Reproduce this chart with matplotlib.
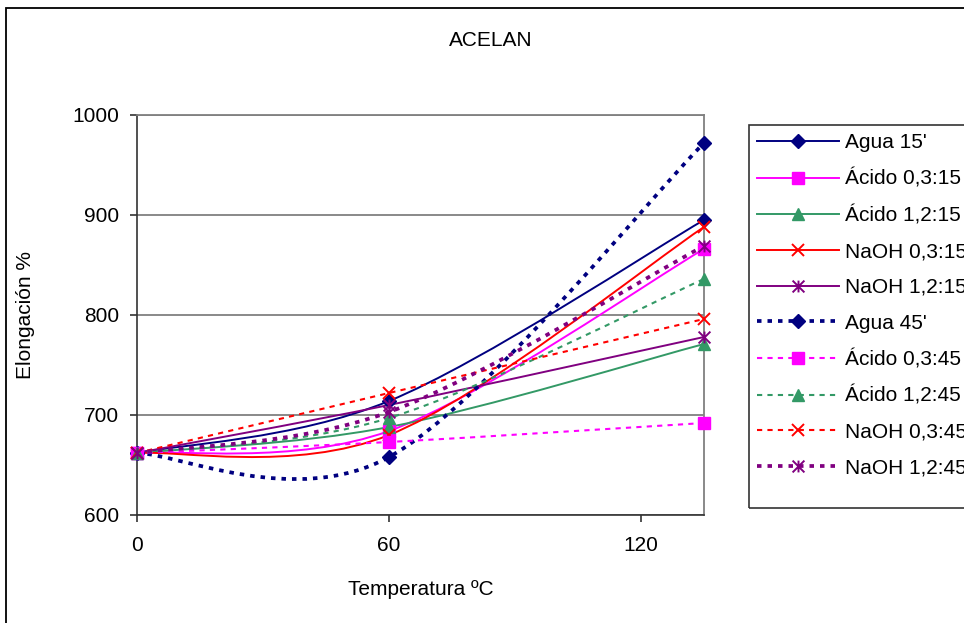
import matplotlib
matplotlib.use('Agg')
import matplotlib.pyplot as plt
from matplotlib.path import Path
from matplotlib.patches import PathPatch, Rectangle
from matplotlib.lines import Line2D

plt.rcParams['font.family'] = ['Liberation Sans', 'DejaVu Sans']

# ---------------- data ----------------
temperatura = [0, 60, 135]
x_ticks = [0, 60, 120]
y_ticks = [600, 700, 800, 900, 1000]

series_names = ["Agua 15'", "Ácido 0,3:15", "Ácido 1,2:15", "NaOH 0,3:15", "NaOH 1,2:15",
                "Agua 45'", "Ácido 0,3:45", "Ácido 1,2:45", "NaOH 0,3:45", "NaOH 1,2:45"]
agua_15 = [662, 714, 895]
acido03_15 = [662, 684, 866]
acido12_15 = [662, 688, 771]
naoh03_15 = [662, 680, 888]
naoh12_15 = [662, 710, 778]
agua_45 = [662, 658, 972]
acido03_45 = [662, 673, 692]
acido12_45 = [662, 697, 836]
naoh03_45 = [662, 722, 796]
naoh12_45 = [662, 703, 869]
series_values = [agua_15, acido03_15, acido12_15, naoh03_15, naoh12_15,
                 agua_45, acido03_45, acido12_45, naoh03_45, naoh12_45]

# ---------------- styles ----------------
star = Path([(-1, -1), (1, 1), (-1, 1), (1, -1), (0, -1), (0, 1)],
            [Path.MOVETO, Path.LINETO] * 3)
base_colors = ['#000080', '#FF00FF', '#339966', '#FF0000', '#800080']
base_markers = ['D', 's', '^', 'x', star]
base_msize = [7.2, 9.0, 8.5, 8.5, 8.5]
colors = base_colors * 2
markers = base_markers * 2
msizes = base_msize * 2
solid = '-'
thin_dot = (0, (2.5, 2.5))
thick_dot = (0, (1.2, 1.6))
linestyles = [solid] * 5 + [thick_dot, thin_dot, thin_dot, thin_dot, thick_dot]
linewidths = [1.4] * 5 + [2.7, 1.5, 1.5, 1.5, 2.7]

FS = 15


def smooth_path(xs, ys):
    pts = list(zip(xs, ys))
    n = len(pts)
    verts = [pts[0]]
    codes = [Path.MOVETO]
    for i in range(n - 1):
        p0 = pts[i - 1] if i > 0 else pts[i]
        p1 = pts[i]
        p2 = pts[i + 1]
        p3 = pts[i + 2] if i + 2 < n else pts[i + 1]
        c1 = (p1[0] + (p2[0] - p0[0]) / 6.0, p1[1] + (p2[1] - p0[1]) / 6.0)
        c2 = (p2[0] - (p3[0] - p1[0]) / 6.0, p2[1] - (p3[1] - p1[1]) / 6.0)
        verts += [c1, c2, p2]
        codes += [Path.CURVE4] * 3
    return Path(verts, codes)


W, H = 964, 623
fig = plt.figure(figsize=(W / 100, H / 100), dpi=100)
fig.patch.set_facecolor('white')

# outer chart frame (extends past the right/bottom edges)
frame = Rectangle((5.5 / W, -0.3), 1.5, 1 - 8.5 / H + 0.3, transform=fig.transFigure,
                  fill=False, edgecolor='#000000', linewidth=1.3)
fig.add_artist(frame)

# legend box (extends past the right edge)
legbox = Rectangle((749 / W, 1 - 508 / H), 0.5, (508 - 125) / H, transform=fig.transFigure,
                   fill=False, edgecolor='#333333', linewidth=1.2)
fig.add_artist(legbox)

ax = fig.add_axes([137 / W, 1 - 515 / H, (704 - 137) / W, 400 / H])
ax.set_xlim(0, 135)
ax.set_ylim(600, 1000)

handles = []
for name, vals, c, m, ms, ls, lw in zip(series_names, series_values, colors, markers,
                                         msizes, linestyles, linewidths):
    patch = PathPatch(smooth_path(temperatura, vals), fill=False, edgecolor=c,
                      linewidth=lw, linestyle=ls, capstyle='butt', zorder=2)
    ax.add_patch(patch)
    mew = 1.4 if (m == 'x' or m is star) else 1.0
    ax.plot(temperatura, vals, linestyle='none', marker=m, markersize=ms, color=c,
            markeredgecolor=c, markerfacecolor=c, markeredgewidth=mew, zorder=3,
            clip_on=False)
    handles.append(Line2D([], [], color=c, linewidth=lw, linestyle=ls, marker=m,
                          markersize=ms, markeredgecolor=c, markerfacecolor=c,
                          markeredgewidth=mew, label=name))

ax.set_xticks(x_ticks)
ax.set_yticks(y_ticks)
ax.grid(axis='y', color='#808080', linewidth=1.3)
ax.set_axisbelow(True)
for side in ['left', 'bottom']:
    ax.spines[side].set_color('#333333')
    ax.spines[side].set_linewidth(1.2)
for side in ['top', 'right']:
    ax.spines[side].set_color('#808080')
    ax.spines[side].set_linewidth(1.3)
ax.tick_params(axis='both', direction='out', length=5, width=1.2, color='#333333',
               labelsize=FS, labelcolor='black')
ax.tick_params(axis='x', pad=10)
ax.tick_params(axis='y', pad=8)

ax.set_xlabel('Temperatura ºC', fontsize=FS, labelpad=18)
ax.set_ylabel('Elongación %', fontsize=FS, labelpad=27)

fig.text(491 / W, 1 - 40 / H, 'ACELAN', ha='center', va='center', fontsize=FS)

leg = fig.legend(handles=handles, loc='upper left', bbox_to_anchor=(751 / W, 1 - 127 / H),
                 bbox_transform=fig.transFigure, fontsize=FS, frameon=False,
                 borderpad=0.3, borderaxespad=0, handlelength=3.9,
                 handletextpad=0.3, labelspacing=0.8)

fig.savefig('out.png', dpi=100)
